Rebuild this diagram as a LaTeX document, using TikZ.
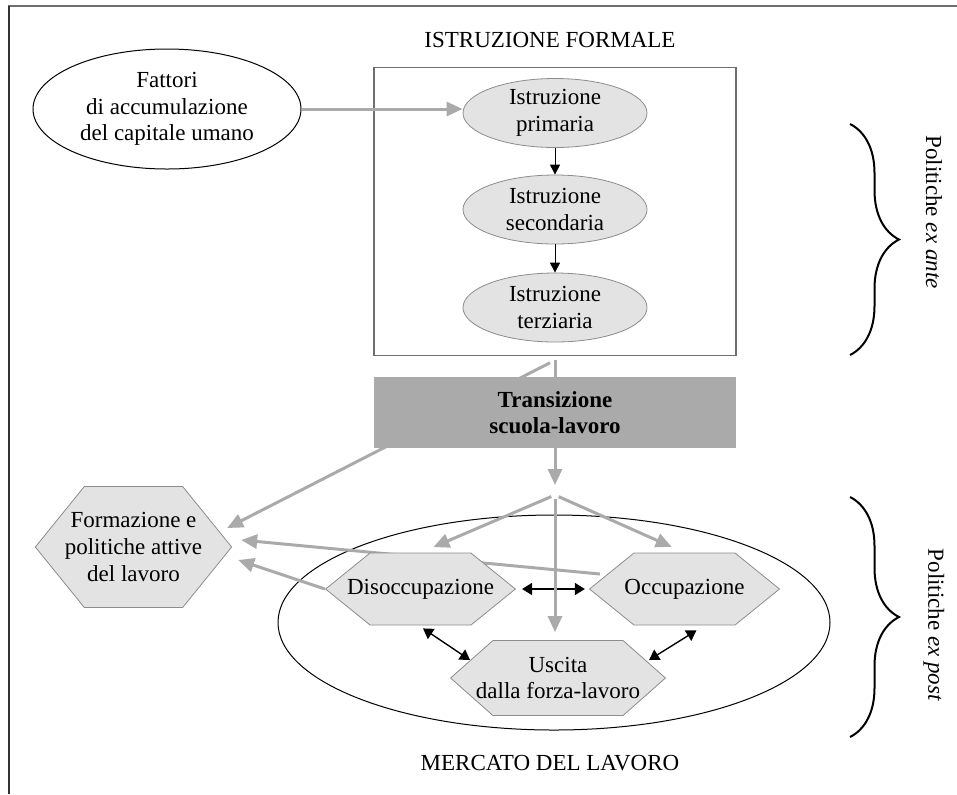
\documentclass[tikz,border=0pt]{standalone}
\usepackage{fontspec}
\setmainfont{Liberation Serif}
\usetikzlibrary{shapes.geometric,shapes.symbols,arrows.meta,decorations.pathreplacing}
\definecolor{lightfill}{HTML}{E3E3E3}
\definecolor{midgray}{HTML}{AAAAAA}
\definecolor{edgegray}{HTML}{8C8C8C}
\definecolor{framegray}{HTML}{6E6E6E}

\begin{document}
\begin{tikzpicture}[x=0.5pt, y=-0.5pt,
  every node/.style={font=\fontsize{11.5}{13.3}\selectfont, align=center, inner sep=0pt},
  oval/.style={ellipse, draw=edgegray, fill=lightfill, minimum width=92pt, minimum height=34.5pt},
  hexa/.style={signal, signal to=west and east, draw=edgegray, fill=lightfill, signal pointer angle=78, minimum height=36pt},
  grayarr/.style={-{Triangle[length=8pt,width=7pt]}, line width=1.5pt, midgray},
  blkarr/.style={-{Triangle[length=5pt,width=5pt]}, line width=0.5pt, black},
  dblarr/.style={{Triangle[length=5pt,width=6pt]}-{Triangle[length=5pt,width=6pt]}, line width=0.7pt, black},
  bracket/.style={decorate, decoration={brace, amplitude=24.5pt}, line width=1pt}
]
  \useasboundingbox (0,0) rectangle (957,794);
  \draw[line width=1pt, framegray] (8,6) -- (957,6);
  \draw[line width=1pt, black!80] (8.5,6) -- (8.5,794);

  \node (titform) at (550,39.5) {ISTRUZIONE FORMALE};
  \node[draw=framegray, line width=0.75pt, minimum width=181pt, minimum height=144pt] (formale) at (555,211.5) {};
  \node[ellipse, draw, fill=white, line width=0.5pt, minimum width=134pt, minimum height=60pt] (fattori) at (167,109) {Fattori\\di accumulazione\\del capitale umano};
  \node[oval] (prim) at (555,113) {Istruzione\\primaria};
  \node[oval] (sec) at (555,209.5) {Istruzione\\secondaria};
  \node[oval] (terz) at (555,307.5) {Istruzione\\terziaria};
  \draw[grayarr] (fattori.east) -- (fattori.east -| prim.west);
  \draw[blkarr] (prim.south) -- (sec.north);
  \draw[blkarr] (sec.south) -- (terz.north);

  \node[ellipse, draw, line width=0.5pt, minimum width=276pt, minimum height=107.5pt] (mercato) at (554,622.5) {};
  \node[hexa, signal pointer angle=102, inner xsep=-9.75pt, minimum height=60.5pt] (form) at (133.5,547) {Formazione e\\politiche attive\\del lavoro};

  \coordinate (fork) at (555,495);
  \draw[grayarr, shorten <=2pt, shorten >=5pt] (formale.south) -- (fork);
  \draw[grayarr] ([shift={(-5,6.5)}]formale.south) -- ([shift={(-5,-19)}]form.east);
  \node[fill=midgray, minimum width=181pt, minimum height=35.5pt, font=\fontsize{11.5}{13.3}\selectfont\bfseries] (trans) at (555,412.5) {Transizione\\scuola-lavoro};

  \node[hexa, inner xsep=-4.75pt] (occ) at (684.5,589) {Occupazione};
  \node[hexa, signal pointer angle=83, inner xsep=-8.5pt, minimum height=37.5pt] (usc) at (558,678) {Uscita\\dalla forza-lavoro};
  \draw[grayarr] ([shift={(11,-15)}]occ.west) -- ([shift={(9,-7)}]form.east);
  \node[hexa, inner xsep=-11.5pt] (disoc) at (420.5,589) {Disoccupazione};
  \draw[grayarr] (disoc.west) -- ([shift={(6,13)}]form.east);

  \draw[dblarr, shorten <=3pt, shorten >=2pt] (disoc.east) -- (occ.west);
  \draw[dblarr] ([shift={(2.5,3)}]disoc.south) -- ([shift={(-88,-18)}]usc.center);
  \draw[dblarr] ([shift={(12,5)}]occ.south) -- ([shift={(91,-18)}]usc.center);

  \draw[grayarr, shorten <=2pt, shorten >=7pt] (fork) -- (disoc.north);
  \draw[grayarr, shorten <=2pt, shorten >=7pt] (fork) -- (occ.north);
  \draw[grayarr, shorten <=2pt, shorten >=4pt] (fork) -- (fork |- usc.north);

  \node (titmerc) at (550,763.5) {MERCATO DEL LAVORO};

  \draw[bracket] (850,124) -- (850,355);
  \draw[bracket] (850,497) -- (850,737);
  \node[rotate=-90] (exante) at (934,212) {Politiche \textit{ex ante}};
  \node[rotate=-90] (expost) at (934,625) {Politiche \textit{ex post}};
\end{tikzpicture}
\end{document}
